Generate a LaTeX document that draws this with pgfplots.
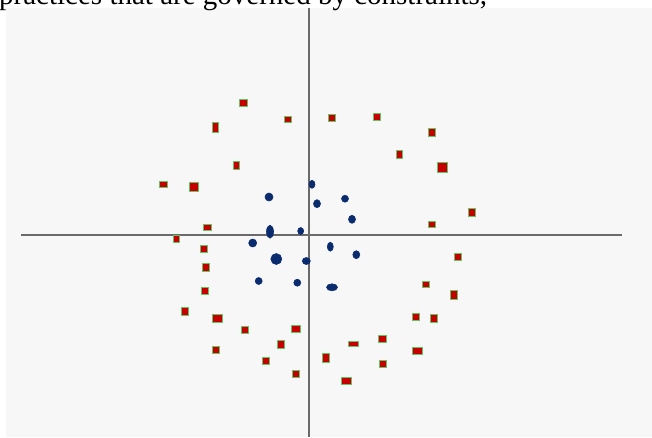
\documentclass[border=0pt]{standalone}
\usepackage{pgfplots}
\pgfplotsset{compat=1.18}
\usepackage{pgfplotstable}
\usepackage{fontspec}
\setmainfont{Liberation Serif}
\definecolor{bggray}{HTML}{F7F7F7}
\definecolor{axgray}{HTML}{6A6A6A}
\definecolor{redfill}{HTML}{C40000}
\definecolor{greenedge}{HTML}{66C266}
\definecolor{navy}{HTML}{0A2C6E}

\pgfplotstableread{
x y w h
243.7 103.3 8 7
288.3 119.3 7 6
332.3 117.7 7 7
377 117 7 7
215.7 127.3 6 10
431.7 132.3 7 8
399.7 154.3 6 8
236.7 165.7 6 8
442.7 167.7 10 10
163.3 184.3 8 6
194.3 187.3 9 9
471.7 212.7 7 8
207.7 227 8 6
432.3 224.3 7 6
176 238.5 6 7
203.7 249 7 7
457.7 256.7 7 7
205.7 267.7 7 8
425.7 284 7 6
205 290.7 7 7
454.3 295.3 7 9
185 311 7 8
217 318 10 8
415.7 316.7 7 7
434 318.3 7 8
245 330.3 7 7
295.7 329.3 9 7
281.3 344 7 8
353.7 344 10 5
382.3 339.3 8 7
215.7 350 7 7
417.7 351.3 10 7
266.3 361 7 7
325.7 358.3 7 9
383.3 363.7 7 7
296 374 7 7
346.3 381.3 10 7
}\redpts

\pgfplotstableread{
x y w h
312 184.3 6 8
269 197 8 8
317 203.7 7 8
345 198.7 7 7
352 219.3 7 8
270 231.7 7 13
300.7 231 6 7
252.7 243 8 8
330.3 246.7 6 9
356.3 254.7 7 8
276.3 259 11 11
306.3 261 8 7
258.7 281 7 7
297.3 282.7 7 7
332 287.3 11 7
}\bluepts

\begin{document}
\begin{tikzpicture}
\begin{axis}[
  at={(0,0)}, anchor=south west,
  scale only axis, width=652pt, height=437pt,
  xmin=0, xmax=652, ymin=0, ymax=437,
  y dir=reverse,
  hide axis, clip=false,
]
\fill[bggray] (axis cs:6,8) rectangle (axis cs:652,437);
\node[anchor=base west, inner sep=0pt, font=\fontsize{29}{34}\selectfont] at (axis cs:-1,4) {practices that are governed by constraints,};
\addplot[axgray, line width=2pt] coordinates {(21,235) (622,235)};
\addplot[axgray, line width=2pt] coordinates {(309,8) (309,437)};
\addplot[scatter, only marks, mark=square*, mark size=4pt,
  mark options={fill=redfill, draw=greenedge, line width=1pt},
  visualization depends on={\thisrow{w}\as\mw},
  visualization depends on={\thisrow{h}\as\mh},
  scatter/@pre marker code/.code={\scope[xscale=\mw/8, yscale=\mh/8]},
  scatter/@post marker code/.code={\endscope},
] table[x=x, y=y] {\redpts};
\addplot[scatter, only marks, mark=*, mark size=4pt,
  mark options={fill=navy, draw=navy, line width=0.6pt},
  visualization depends on={\thisrow{w}\as\mw},
  visualization depends on={\thisrow{h}\as\mh},
  scatter/@pre marker code/.code={\scope[xscale=\mw/8, yscale=\mh/8]},
  scatter/@post marker code/.code={\endscope},
] table[x=x, y=y] {\bluepts};
\end{axis}
\pgfresetboundingbox
\useasboundingbox (0,0) rectangle (652pt,437pt);
\end{tikzpicture}
\end{document}
